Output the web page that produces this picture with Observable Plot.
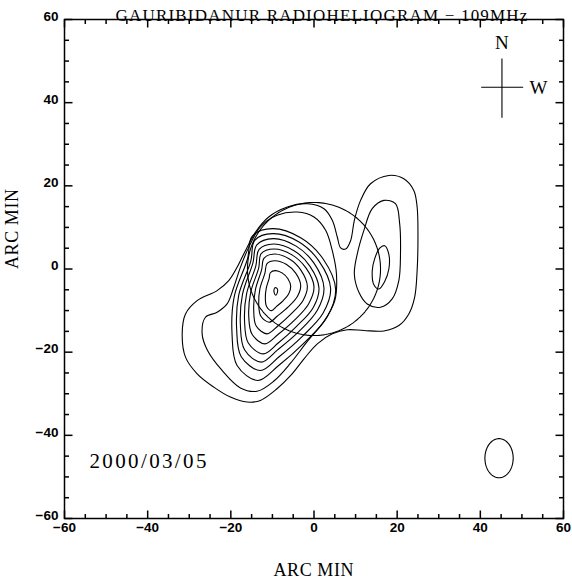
<!DOCTYPE html>
<html><head><meta charset="utf-8">
<script src="https://cdn.jsdelivr.net/npm/d3@7"></script>
<script src="https://cdn.jsdelivr.net/npm/@observablehq/plot@0.6"></script>
<style>
body{margin:0;background:#fff;}
#chart{width:572px;height:582px;}
</style></head><body><div id="chart"></div>
<script>
// ---- texts ----
const titleText = "GAURIBIDANUR RADIOHELIOGRAM \u2212 109MHz";
const axisTitle = "ARC MIN";
const dateText = "2000/03/05";
// ---- axes ----
const axisDomain = [-60, 60];
const majorTicks = [-60, -40, -20, 0, 20, 40, 60];
const minorTicks = [-55,-50,-45,-35,-30,-25,-15,-10,-5,5,10,15,25,30,35,45,50,55];
// ---- solar disk & beam (arc min) ----
const sunCenter = [0, 0];
const sunRadius = 16;
const beamCenter = [44.5, -45.5];
const beamSemiAxes = [3.4, 4.7];
// ---- compass ----
const compassArms = [
  {x1: 45.2, y1: 36.4, x2: 45.2, y2: 50.6},
  {x1: 40.2, y1: 43.7, x2: 50.3, y2: 43.7}
];
const compassLabels = [{x: 45.2, y: 54.3, t: "N"}, {x: 54.0, y: 43.6, t: "W"}];
const dateLabel = [{x: -54, y: -46.3, t: dateText}];
// ---- contours (x, y in arc min) ----
const contourOuter = [[18.0,22.5],[21.6,21.7],[24.0,18.9],[24.8,14.9],[25.0,7.7],[24.8,-0.4],[24.2,-6.8],[22.8,-10.8],[20.4,-13.6],[16.8,-14.9],[12.0,-14.8],[8.0,-14.6],[4.4,-15.6],[0.8,-18.0],[-2.4,-21.6],[-5.6,-25.6],[-8.9,-28.8],[-12.9,-31.6],[-16.1,-32.0],[-20.1,-30.8],[-24.1,-28.4],[-28.1,-25.2],[-30.9,-21.2],[-31.7,-15.6],[-30.9,-10.8],[-28.1,-7.6],[-23.3,-5.2],[-20.5,-2.8],[-18.5,0.4],[-16.5,4.4],[-14.1,8.8],[-10.9,12.5],[-6.4,14.9],[-1.6,15.7],[2.4,14.5],[4.4,11.7],[5.6,7.7],[6.4,5.1],[7.6,4.8],[8.8,6.8],[9.7,11.7],[11.2,16.5],[13.6,20.5]];
const contourMain2 = [[-26.9,-15.6],[-26.1,-11.6],[-23.3,-10.4],[-20.9,-8.4],[-19.3,-4.4],[-17.7,0.4],[-15.7,5.2],[-12.9,10.1],[-8.9,12.9],[-4.0,13.7],[0,12.5],[2.8,9.3],[4.4,4.4],[5.4,-1.2],[5.0,-7.6],[2.4,-12.6],[-1.6,-17.4],[-5.6,-22.6],[-9.7,-27.0],[-13.7,-29.4],[-17.7,-28.6],[-22.1,-24.4],[-25.6,-19.6]];
const contourRing8 = [[-10.0,9.7],[-3.2,7.5],[2.2,2.4],[5.2,-4.9],[3.2,-11.5],[-2.3,-17.7],[-8.5,-23.2],[-13.5,-26.8],[-18.5,-23.2],[-19.7,-15.9],[-19.2,-6.7],[-16.0,2.4],[-14.85,7.9]];
const contourRing7 = [[-9.9,8.5],[-3.6,6.5],[1.2,1.9],[4.0,-4.7],[2.2,-10.6],[-2.8,-16.2],[-8.4,-21.1],[-12.9,-24.4],[-17.5,-21.1],[-18.6,-14.5],[-18.1,-6.3],[-15.2,1.9],[-14.25,6.9]];
const contourRing6 = [[-9.8,7.3],[-4.3,5.5],[0,1.4],[2.4,-4.6],[0.8,-9.9],[-3.6,-15.0],[-8.7,-19.4],[-12.7,-22.4],[-16.7,-19.4],[-17.7,-13.5],[-17.2,-6.1],[-14.7,1.4],[-13.75,5.8]];
const contourRing5 = [[-9.7,6.0],[-4.8,4.4],[-1.0,0.7],[1.2,-4.6],[-0.2,-9.3],[-4.2,-13.8],[-8.6,-17.8],[-12.2,-20.4],[-15.8,-17.8],[-16.7,-12.5],[-16.2,-5.9],[-14.0,0.7],[-13.2,4.7]];
const contourRing4 = [[-9.6,4.8],[-5.3,3.4],[-1.9,0.2],[0,-4.3],[-1.3,-8.4],[-4.7,-12.3],[-8.6,-15.7],[-11.8,-18.0],[-14.9,-15.7],[-15.7,-11.2],[-15.2,-5.5],[-13.3,0.2],[-12.7,3.7]];
const contourRing3 = [[-9.5,3.6],[-5.9,2.4],[-3.2,-0.2],[-1.6,-4.1],[-2.6,-7.5],[-5.5,-10.8],[-8.7,-13.7],[-11.3,-15.6],[-13.9,-13.7],[-14.5,-9.8],[-14.1,-5.0],[-12.6,-0.2],[-12.0,2.6]];
const contourRing2 = [[-9.4,2.0],[-6.6,1.1],[-4.4,-1.0],[-3.2,-3.9],[-4.0,-6.6],[-6.2,-9.1],[-8.8,-11.3],[-10.8,-12.8],[-12.8,-11.3],[-13.3,-8.4],[-13.0,-4.7],[-11.8,-1.0],[-11.3,1.3]];
const contourRing1 = [[-9.3,-0.4],[-7.6,-1.0],[-6.3,-2.3],[-5.6,-4.2],[-6.1,-6.0],[-7.4,-7.6],[-9.0,-9.0],[-10.2,-10.0],[-11.4,-9.0],[-11.7,-7.1],[-11.5,-4.7],[-10.8,-2.3],[-10.5,-0.9]];
const contourPeak = [[-9.4,-4.5],[-8.8,-4.8],[-8.8,-5.6],[-9.2,-6.3],[-9.6,-5.6],[-9.6,-4.9]];
const contourWest2 = [[16.8,16.5],[19.6,15.7],[20.6,10.9],[20.8,3.6],[20.4,-2.8],[18.8,-7.2],[16.0,-9.2],[12.8,-8.4],[10.8,-5.6],[9.7,-1.2],[10.4,3.6],[12.0,9.3],[14.0,14.5]];
const contourWest3 = [[17.0,5.6],[18.0,3.5],[18.0,0],[17.0,-3.0],[15.6,-4.8],[14.4,-3.8],[14.0,-0.5],[14.6,2.5],[15.8,5.0]];

const contours = {contourOuter, contourMain2, contourRing8, contourRing7, contourRing6, contourRing5, contourRing4, contourRing3, contourRing2, contourRing1, contourPeak, contourWest2, contourWest3};
const contourRows = Object.entries(contours).flatMap(([id, pts]) => pts.map(([x, y]) => ({id, x, y})));

// solar disk and beam outline from their centre and radii
const sunDisk = d3.range(0, 360, 2).map(a => ({x: sunCenter[0] + sunRadius * Math.cos(a * Math.PI / 180), y: sunCenter[1] + sunRadius * Math.sin(a * Math.PI / 180)}));
const beam = d3.range(0, 360, 4).map(a => ({x: beamCenter[0] + beamSemiAxes[0] * Math.cos(a * Math.PI / 180), y: beamCenter[1] + beamSemiAxes[1] * Math.sin(a * Math.PI / 180)}));

const W = 572, H = 582, mL = 64, mR = 9, mT = 19, mB = 64;
const frameW = W - mL - mR, frameH = H - mT - mB;
const [lo, hi] = axisDomain;
const unitX = (hi - lo) / frameW, unitY = (hi - lo) / frameH; // arc min per pixel
// inward tick segments on all four sides (major 8px, minor 4.5px)
const tickSegs = [[majorTicks, 8], [minorTicks, 4.5]].flatMap(([ticks, len]) => ticks.flatMap(t => [
  {x1: t, y1: lo, x2: t, y2: lo + len * unitY},
  {x1: t, y1: hi, x2: t, y2: hi - len * unitY},
  {x1: lo, y1: t, x2: lo + len * unitX, y2: t},
  {x1: hi, y1: t, x2: hi - len * unitX, y2: t}
]));

const fmt = d => d < 0 ? "\u2212" + (-d) : String(d);
const labelFont = {fontFamily: "Liberation Sans, Arial, sans-serif", fontWeight: "bold", fontSize: 13.5, fill: "#000"};
const serif = "Liberation Serif, Times New Roman, serif";

const plot = Plot.plot({
  width: W, height: H,
  marginLeft: mL, marginRight: mR, marginTop: mT, marginBottom: mB,
  x: {domain: axisDomain, axis: null},
  y: {domain: axisDomain, axis: null},
  marks: [
    Plot.line(contourRows, {x: "x", y: "y", z: "id", curve: "catmull-rom-closed", stroke: "#000", strokeWidth: 1.1}),
    Plot.line(sunDisk, {x: "x", y: "y", curve: "linear-closed", stroke: "#000", strokeWidth: 1.1}),
    Plot.line(beam, {x: "x", y: "y", curve: "linear-closed", stroke: "#000", strokeWidth: 1.1}),
    Plot.link(compassArms, {x1: "x1", y1: "y1", x2: "x2", y2: "y2", stroke: "#000", strokeWidth: 1.1}),
    Plot.text(compassLabels, {x: "x", y: "y", text: "t", fontFamily: serif, fontSize: 19, fill: "#000"}),
    Plot.text(dateLabel, {x: "x", y: "y", text: "t", textAnchor: "start", fontFamily: serif, fontSize: 21, fill: "#000"}),
    Plot.link(tickSegs, {x1: "x1", y1: "y1", x2: "x2", y2: "y2", stroke: "#000", strokeWidth: 1.5}),
    Plot.text(majorTicks, {x: d => d, frameAnchor: "bottom", dy: 13, text: fmt, ...labelFont}),
    Plot.text(majorTicks, {y: d => d, frameAnchor: "left", dx: -6, dy: -3, textAnchor: "end", text: fmt, ...labelFont}),
    Plot.text([titleText], {frameAnchor: "top-left", dx: 51, dy: -11, textAnchor: "start", text: d => d, fontFamily: serif, fontSize: 17, fill: "#000"}),
    Plot.text([axisTitle], {frameAnchor: "bottom-left", dx: 209, dy: 57, textAnchor: "start", text: d => d, fontFamily: serif, fontSize: 18, fill: "#000"}),
    Plot.text([axisTitle], {frameAnchor: "left", dx: -52, rotate: -90, text: d => d, fontFamily: serif, fontSize: 18, fill: "#000"}),
    Plot.frame({stroke: "#000", strokeWidth: 1.5})
  ]
});
document.getElementById("chart").append(plot);
// stretch letter spacing of the serif labels to the widths seen in the reference
const targetWidths = [[titleText, 412], [dateText, 117], [axisTitle, 80]];
d3.select(plot).selectAll("text").each(function() {
  const tw = targetWidths.find(([s]) => s === this.textContent);
  if (!tw) return;
  const n = this.textContent.length;
  const natural = this.getComputedTextLength();
  const sp = Math.max(0, (tw[1] - natural) / (n - 1));
  this.style.letterSpacing = sp.toFixed(2) + "px";
});
</script></body></html>
